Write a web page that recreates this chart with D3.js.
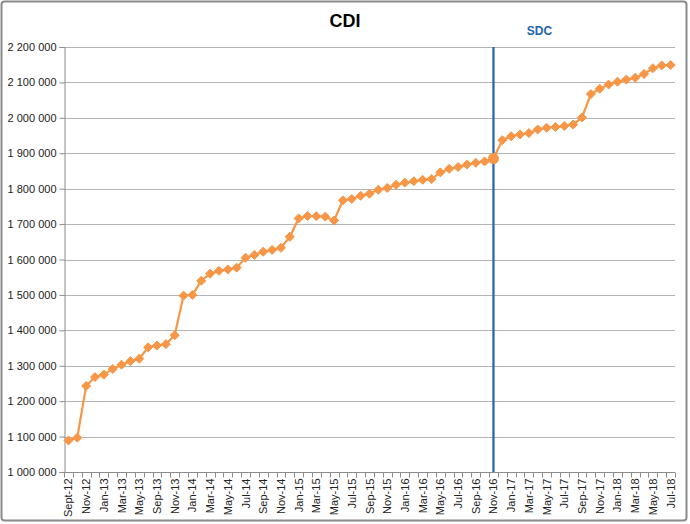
<!DOCTYPE html>
<html>
<head>
<meta charset="utf-8">
<script src="https://cdn.jsdelivr.net/npm/d3@7"></script>
<style>
  body { margin: 0; background: #fff; }
  text { font-family: 'Liberation Sans', Arial, sans-serif; }
</style>
</head>
<body>
<div id="chart"></div>
<script>
// monthly categories (one month is missing between May-13 and Sep-13 in the source)
const months = [
  'Sept-12', 'Oct-12', 'Nov-12', 'Dec-12',
  'Jan-13', 'Feb-13', 'Mar-13', 'Apr-13', 'May-13', 'Jun-13', 'Sep-13', 'Oct-13', 'Nov-13', 'Dec-13',
  'Jan-14', 'Feb-14', 'Mar-14', 'Apr-14', 'May-14', 'Jun-14', 'Jul-14', 'Aug-14', 'Sep-14', 'Oct-14', 'Nov-14', 'Dec-14',
  'Jan-15', 'Feb-15', 'Mar-15', 'Apr-15', 'May-15', 'Jun-15', 'Jul-15', 'Aug-15', 'Sep-15', 'Oct-15', 'Nov-15', 'Dec-15',
  'Jan-16', 'Feb-16', 'Mar-16', 'Apr-16', 'May-16', 'Jun-16', 'Jul-16', 'Aug-16', 'Sep-16', 'Oct-16', 'Nov-16', 'Dec-16',
  'Jan-17', 'Feb-17', 'Mar-17', 'Apr-17', 'May-17', 'Jun-17', 'Jul-17', 'Aug-17', 'Sep-17', 'Oct-17', 'Nov-17', 'Dec-17',
  'Jan-18', 'Feb-18', 'Mar-18', 'Apr-18', 'May-18', 'Jun-18', 'Jul-18'
];

const cdi = [
  1089000, 1097000, 1243000, 1268000,
  1275000, 1291000, 1303000, 1313000, 1320000, 1352000, 1357000, 1361000, 1386000, 1498000,
  1500000, 1540000, 1560000, 1568000, 1572000, 1577000, 1605000, 1613000, 1622000, 1627000, 1633000, 1664000,
  1716000, 1723000, 1722000, 1721000, 1710000, 1767000, 1771000, 1780000, 1786000, 1797000, 1802000, 1811000,
  1817000, 1821000, 1825000, 1827000, 1846000, 1856000, 1861000, 1868000, 1873000, 1877000, 1885000, 1937000,
  1948000, 1953000, 1957000, 1967000, 1972000, 1974000, 1977000, 1981000, 2001000, 2067000, 2082000, 2094000,
  2102000, 2108000, 2113000, 2124000, 2140000, 2148000, 2149000
];

const yTicks = [1000000, 1100000, 1200000, 1300000, 1400000, 1500000, 1600000,
  1700000, 1800000, 1900000, 2000000, 2100000, 2200000];

const marker = 'Nov-16';
const markerLabel = 'SDC';
const title = 'CDI';

const W = 690, H = 524;
const margin = { top: 47, right: 15, bottom: 52, left: 64 };
const orange = '#F79646';
const blue = '#2264AE';

const svg = d3.select('#chart').append('svg')
  .attr('width', W)
  .attr('height', H);

// outer frame
svg.append('rect')
  .attr('x', 1.5).attr('y', 1.5)
  .attr('width', W - 5).attr('height', H - 5)
  .attr('rx', 3)
  .attr('fill', '#fff')
  .attr('stroke', '#8a8a8a')
  .attr('stroke-width', 2);

const x = d3.scaleBand()
  .domain(months)
  .range([margin.left, W - margin.right])
  .paddingInner(0)
  .paddingOuter(0);

const y = d3.scaleLinear()
  .domain([1000000, 2200000])
  .range([H - margin.bottom, margin.top]);

const cx = d => x(d) + x.bandwidth() / 2;
const fmt = v => d3.format(',')(v).replace(/,/g, ' ');

// grid lines
svg.append('g')
  .selectAll('line')
  .data(yTicks.slice(1))
  .enter()
  .append('line')
  .attr('x1', margin.left)
  .attr('x2', W - margin.right)
  .attr('y1', d => Math.round(y(d)) + 0.5)
  .attr('y2', d => Math.round(y(d)) + 0.5)
  .attr('stroke', '#b4b4b4')
  .attr('stroke-width', 1);

// y axis
const yAxis = d3.axisLeft(y)
  .tickValues(yTicks)
  .tickFormat(fmt)
  .tickSizeOuter(0)
  .tickSize(5)
  .tickPadding(3);

const gy = svg.append('g')
  .attr('transform', `translate(${margin.left + 0.5},0)`)
  .call(yAxis);
gy.select('.domain').attr('stroke', '#8c8c8c');
gy.selectAll('.tick line').attr('stroke', '#8c8c8c');
gy.selectAll('.tick text')
  .attr('fill', '#222')
  .style('font-size', '11px');

// x axis: ticks at category boundaries, labels every second month
const xBase = Math.round(y(1000000)) + 0.5;
const gx = svg.append('g');
gx.append('line')
  .attr('x1', margin.left)
  .attr('x2', W - margin.right)
  .attr('y1', xBase)
  .attr('y2', xBase)
  .attr('stroke', '#8c8c8c');

gx.selectAll('.xtick')
  .data(months.concat(['end']))
  .enter()
  .append('line')
  .attr('class', 'xtick')
  .attr('x1', (d, i) => Math.round(margin.left + i * x.bandwidth()) + 0.5)
  .attr('x2', (d, i) => Math.round(margin.left + i * x.bandwidth()) + 0.5)
  .attr('y1', xBase)
  .attr('y2', xBase + 5)
  .attr('stroke', '#8c8c8c');

gx.selectAll('.xlabel')
  .data(months.filter((d, i) => i % 2 === 0))
  .enter()
  .append('text')
  .attr('class', 'xlabel')
  .attr('transform', d => `translate(${cx(d) + 4},${xBase + 6}) rotate(-90)`)
  .attr('text-anchor', 'end')
  .attr('fill', '#222')
  .style('font-size', '11px')
  .text(d => d);

// title
svg.append('text')
  .attr('x', 345)
  .attr('y', 27)
  .attr('text-anchor', 'middle')
  .style('font-size', '18px')
  .style('font-weight', 'bold')
  .attr('fill', '#000')
  .text(title);

// SDC vertical line
svg.append('line')
  .attr('x1', cx(marker))
  .attr('x2', cx(marker))
  .attr('y1', margin.top)
  .attr('y2', H - margin.bottom)
  .attr('stroke', blue)
  .attr('stroke-width', 2.2);

svg.append('text')
  .attr('x', cx(marker) + 46)
  .attr('y', 35)
  .attr('text-anchor', 'middle')
  .style('font-size', '12px')
  .style('font-weight', 'bold')
  .attr('fill', blue)
  .text(markerLabel);

// series line
const data = months.map((m, i) => ({ m, v: cdi[i] }));

svg.append('path')
  .datum(data)
  .attr('fill', 'none')
  .attr('stroke', orange)
  .attr('stroke-width', 2.2)
  .attr('d', d3.line().x(d => cx(d.m)).y(d => y(d.v)));

const diamond = d3.symbol().type(d3.symbolDiamond2).size(52);

svg.append('g')
  .selectAll('path')
  .data(data.filter(d => d.m !== marker))
  .enter()
  .append('path')
  .attr('d', diamond)
  .attr('transform', d => `translate(${cx(d.m)},${y(d.v)})`)
  .attr('fill', orange)
  .attr('stroke', orange)
  .attr('stroke-width', 1);

// highlighted point at the SDC month
svg.append('circle')
  .datum(data.find(d => d.m === marker))
  .attr('cx', d => cx(d.m))
  .attr('cy', d => y(d.v))
  .attr('r', 5.5)
  .attr('fill', orange);
</script>
</body>
</html>
